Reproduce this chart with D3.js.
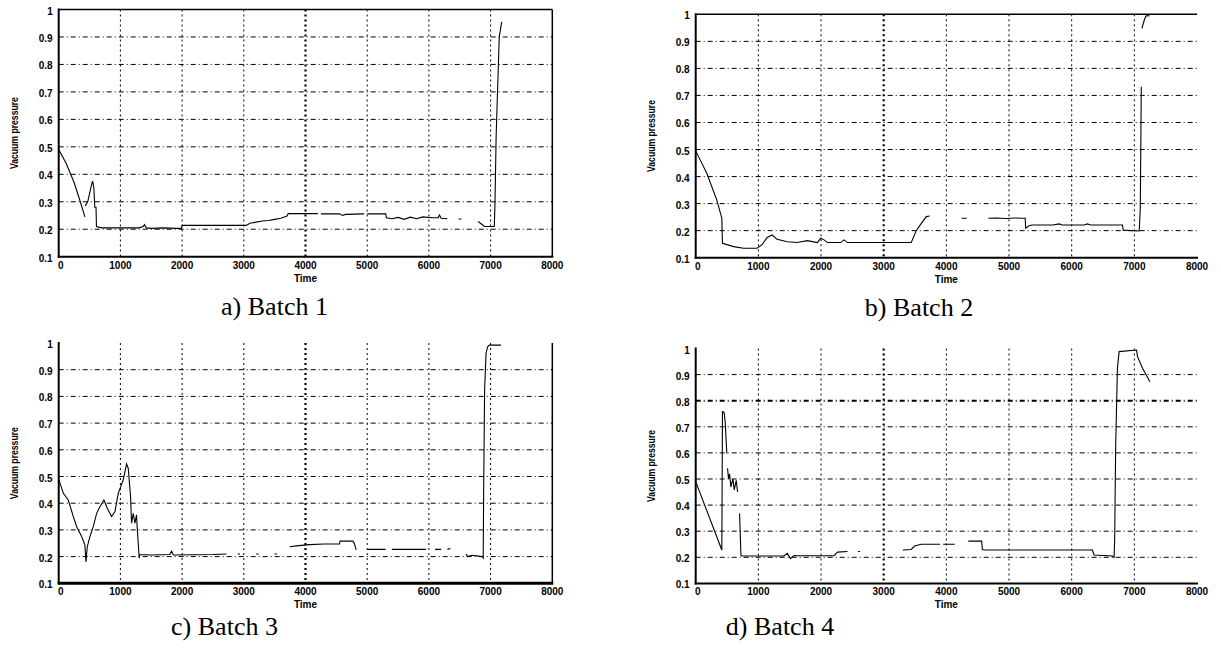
<!DOCTYPE html>
<html>
<head>
<meta charset="utf-8">
<script src="https://cdn.jsdelivr.net/npm/d3@7"></script>
<style>
  body { margin: 0; background: #fff; }
  svg { display: block; }
  .tick-lbl { font: bold 10px "Liberation Sans", Arial, sans-serif; fill: #000; }
  .cap { font: 26px "Liberation Serif", "Times New Roman", serif; fill: #000; }
</style>
</head>
<body>
<script>
// tick values shared by the four plots
const xTicks = [0, 1000, 2000, 3000, 4000, 5000, 6000, 7000, 8000];
const yTicks = [0.1, 0.2, 0.3, 0.4, 0.5, 0.6, 0.7, 0.8, 0.9, 1];
const captions = ["a) Batch 1", "b) Batch 2", "c) Batch 3", "d) Batch 4"];

// [time, vacuum pressure], null = gap in the trace
const batch1 = [
  [0,0.49],[120,0.44],[250,0.37],[350,0.3],[425,0.245], null,
  [430,0.285],[470,0.3],[500,0.33],[530,0.36],[550,0.375],[570,0.35],[585,0.28],[605,0.28],[612,0.21],
  [700,0.205],[1000,0.205],[1300,0.205],[1370,0.21],[1390,0.217],[1420,0.205],[1500,0.203],[1700,0.205],
  [1900,0.203],[1990,0.203],[2000,0.214],[2500,0.214],[3040,0.214],[3100,0.222],[3200,0.226],[3300,0.23],
  [3400,0.232],[3500,0.236],[3600,0.24],[3700,0.248],[3720,0.257],[4000,0.257],[4200,0.257], null,
  [4250,0.256],[4550,0.256],[4600,0.25],[4650,0.254],[4950,0.256], null,[5000,0.256],[5300,0.256],
  [5310,0.242],[5400,0.238],[5500,0.243],[5600,0.236],[5700,0.244],[5800,0.238],[5900,0.245],[6050,0.242],
  [6150,0.242],[6170,0.252],[6200,0.24],[6300,0.238], null,[6480,0.237],[6530,0.237], null,
  [6800,0.228],[6900,0.21],[7060,0.21],[7070,0.285],[7090,0.54],[7125,0.79],[7140,0.9],[7180,0.955]
];
const batch2 = [
  [0,0.495],[177,0.412],[337,0.313],[417,0.246],[427,0.153],[604,0.141],[764,0.135],[978,0.135],
  [1059,0.148],[1140,0.175],[1220,0.184],[1300,0.168],[1461,0.159],[1621,0.156],[1782,0.163],[1942,0.156],
  [1995,0.172],[2048,0.166],[2102,0.156],[2316,0.156],[2369,0.166],[2423,0.156],[3440,0.156],[3520,0.2],
  [3600,0.227],[3680,0.252],[3733,0.254], null,[4245,0.246],[4325,0.246], null,
  [4670,0.246],[4800,0.247],[4950,0.245],[5100,0.247],[5205,0.246],[5259,0.246],[5265,0.209],[5313,0.217],
  [5366,0.221],[5700,0.221],[5800,0.225],[5850,0.221],[6200,0.221],[6250,0.225],[6300,0.221],[6811,0.221],
  [6822,0.202],[7078,0.199],[7095,0.283],[7111,0.732], null,
  [7121,0.948],[7159,0.979],[7185,0.994],[7239,0.995]
];
const batch3 = [
  [0,0.49],[75,0.437],[155,0.412],[237,0.35],[291,0.312],[372,0.275],[425,0.243],[442,0.18],[463,0.237],
  [506,0.275],[560,0.312],[615,0.362],[668,0.387],[733,0.412],[787,0.381],[857,0.35],[911,0.368],[965,0.437],
  [1046,0.487],[1100,0.547],[1127,0.531],[1165,0.424],[1181,0.325],[1208,0.362],[1235,0.325],[1262,0.356],
  [1273,0.306],[1305,0.194],[1316,0.208],[1500,0.206],[1800,0.208],[1830,0.22],[1860,0.206],[2200,0.207],
  [2500,0.208],[2718,0.21], null,[2900,0.21],[2940,0.21], null,[3200,0.21],[3240,0.21], null,
  [3500,0.21],[3540,0.21], null,[3744,0.237],[3850,0.24],[4068,0.245],[4300,0.247],[4552,0.247],
  [4560,0.258],[4768,0.258],[4790,0.25],[4822,0.225], null,[5005,0.227],[5300,0.227], null,
  [5400,0.227],[5700,0.227],[5955,0.227], null,[6100,0.227],[6200,0.227], null,[6300,0.227],[6350,0.23], null,
  [6602,0.21],[6624,0.2],[6700,0.205],[6866,0.2],[6880,0.195],[6887,0.43],[6903,0.824],[6926,0.961],
  [6952,0.986],[6979,0.992],[7168,0.992]
];
const batch4 = [
  [0,0.49],[417,0.228],[427,0.758],[454,0.755],[470,0.72],[497,0.598], null,
  [508,0.541],[524,0.5],[540,0.52],[561,0.47],[594,0.5],[615,0.458],[647,0.495],[668,0.45], null,
  [700,0.368],[722,0.209],[738,0.205],[1407,0.205],[1461,0.215],[1514,0.195],[1567,0.207],[1621,0.206],
  [2209,0.206],[2263,0.22],[2423,0.222], null,[2590,0.222],[2620,0.222], null,
  [3307,0.228],[3440,0.23],[3493,0.243],[3600,0.25],[3900,0.25], null,[3950,0.25],[4135,0.25], null,
  [4350,0.262],[4564,0.262],[4575,0.23],[4617,0.228],[5500,0.228],[6331,0.228],[6356,0.209],[6651,0.205],
  [6677,0.2],[6686,0.266],[6702,0.624],[6730,0.924],[6757,0.988],[7035,0.994],[7051,0.969],[7131,0.924],
  [7249,0.873]
];

// plot boxes in pixels, plus scanning quirks of each panel
const panels = [
  {data: batch1, left: 58.7, right: 552.3, top: 9.5,  bottom: 256.7, frameTop: true,  frameRight: true,
   thickX: [4000], thickY: [], capX: 274.5, capY: 315, axisW: 2},
  {data: batch2, left: 695.7, right: 1197, top: 14.3, bottom: 257.7, frameTop: true,  frameRight: false,
   thickX: [3000], thickY: [], capX: 919, capY: 316, axisW: 2},
  {data: batch3, left: 58.7, right: 552.3, top: 343,  bottom: 583.3, frameTop: false, frameRight: true,
   thickX: [4000], thickY: [], capX: 224.5, capY: 635, axisW: 3},
  {data: batch4, left: 695.7, right: 1197, top: 348.5, bottom: 583.4, frameTop: false, frameRight: false,
   thickX: [3000], thickY: [0.8], capX: 780, capY: 635, axisW: 2}
];

const svg = d3.select("body").append("svg")
  .attr("width", 1221)
  .attr("height", 651);

panels.forEach(function(p, i) {
  const x = d3.scaleLinear().domain([0, 8000]).range([p.left, p.right]);
  const y = d3.scaleLinear().domain([0.1, 1]).range([p.bottom, p.top]);
  const g = svg.append("g");

  // horizontal grid, dash-dot
  g.selectAll(".hgrid")
    .data(yTicks.filter(v => v > 0.1 && v < 1))
    .join("line")
    .attr("x1", p.left).attr("x2", p.right)
    .attr("y1", d => y(d)).attr("y2", d => y(d))
    .attr("stroke", "#000")
    .attr("stroke-width", d => p.thickY.includes(d) ? 2 : 1)
    .attr("stroke-dasharray", "5,3,1,3");

  // vertical grid, dotted
  g.selectAll(".vgrid")
    .data(xTicks.filter(v => v > 0 && v < 8000))
    .join("line")
    .attr("x1", d => x(d)).attr("x2", d => x(d))
    .attr("y1", p.top).attr("y2", p.bottom)
    .attr("stroke", "#000")
    .attr("stroke-width", d => p.thickX.includes(d) ? 2.2 : 1)
    .attr("stroke-dasharray", "2,3");

  // axes / frame
  g.append("line").attr("x1", p.left).attr("x2", p.left).attr("y1", p.top - 1).attr("y2", p.bottom + 1)
    .attr("stroke", "#000").attr("stroke-width", 2);
  g.append("line").attr("x1", p.left - 1).attr("x2", p.right + 1).attr("y1", p.bottom).attr("y2", p.bottom)
    .attr("stroke", "#000").attr("stroke-width", p.axisW);
  if (p.frameTop) {
    g.append("line").attr("x1", p.left).attr("x2", p.right).attr("y1", p.top).attr("y2", p.top)
      .attr("stroke", "#000").attr("stroke-width", 1.5);
  }
  if (p.frameRight) {
    g.append("line").attr("x1", p.right).attr("x2", p.right).attr("y1", p.top).attr("y2", p.bottom)
      .attr("stroke", "#000").attr("stroke-width", 1.5);
  }

  // tick labels
  g.selectAll(".xl")
    .data(xTicks)
    .join("text")
    .attr("class", "tick-lbl")
    .attr("x", d => x(d) + (d === 0 ? 2 : 0))
    .attr("y", p.bottom + 12)
    .attr("text-anchor", "middle")
    .text(d => d);
  g.selectAll(".yl")
    .data(yTicks)
    .join("text")
    .attr("class", "tick-lbl")
    .attr("x", p.left - 6)
    .attr("y", d => y(d) + 5)
    .attr("text-anchor", "end")
    .text(d => d);

  // axis titles
  g.append("text")
    .attr("class", "tick-lbl")
    .attr("x", (p.left + p.right) / 2)
    .attr("y", p.bottom + 25)
    .attr("text-anchor", "middle")
    .text("Time");
  g.append("text")
    .attr("class", "tick-lbl")
    .attr("transform", "translate(" + (p.left - 41) + "," + ((p.top + p.bottom) / 2) + ") rotate(-90)")
    .attr("text-anchor", "middle")
    .attr("textLength", 72)
    .attr("lengthAdjust", "spacingAndGlyphs")
    .text("Vacuum pressure");

  // the trace
  const line = d3.line()
    .defined(d => d !== null)
    .x(d => x(d[0]))
    .y(d => y(d[1]));
  g.append("path")
    .datum(p.data)
    .attr("d", line)
    .attr("fill", "none")
    .attr("stroke", "#000")
    .attr("stroke-width", 1.1);

  // caption
  svg.append("text")
    .attr("class", "cap")
    .attr("x", p.capX)
    .attr("y", p.capY)
    .attr("text-anchor", "middle")
    .text(captions[i]);
});
</script>
</body>
</html>
